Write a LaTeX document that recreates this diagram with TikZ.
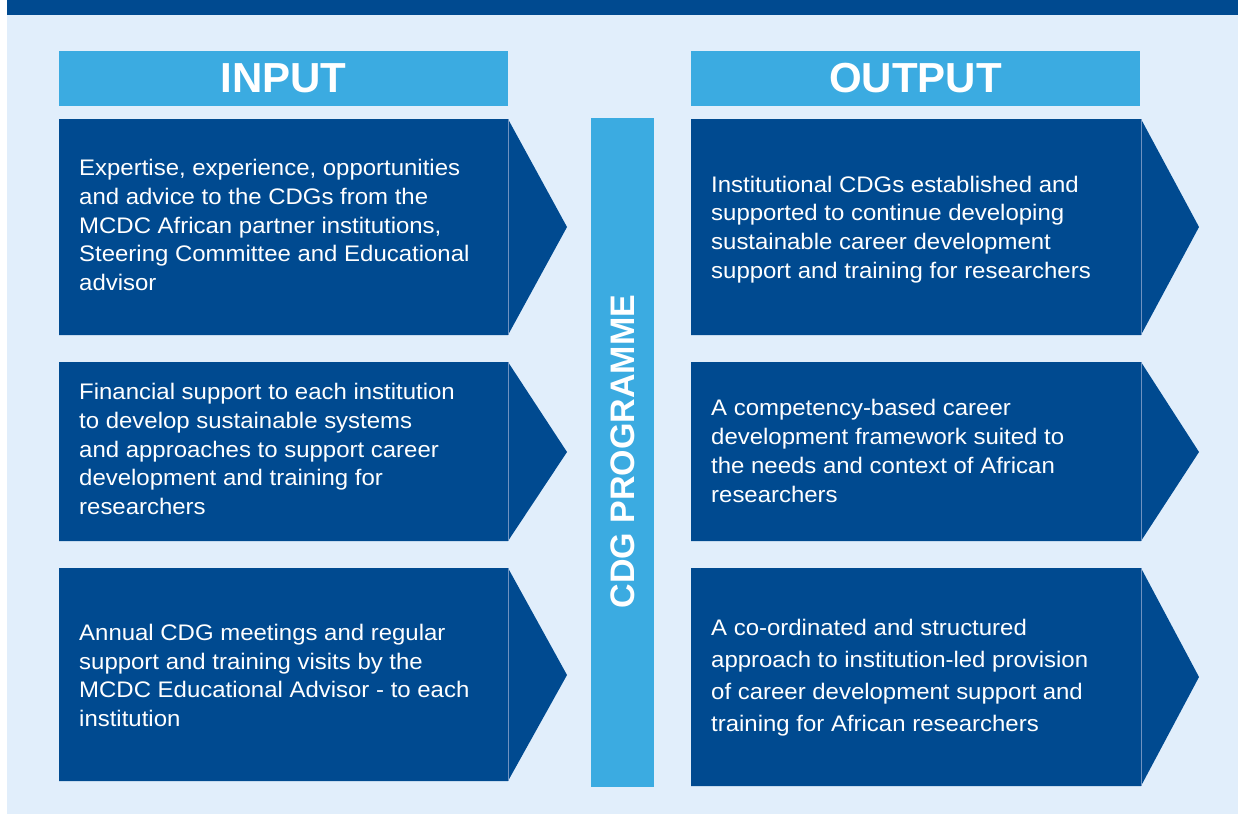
\documentclass[tikz,border=0pt]{standalone}
\usepackage{fontspec}
\setmainfont{Liberation Sans}
\newfontfamily\bodyfont[FakeStretch=1.065]{Liberation Sans}
\definecolor{MCDCNavy}{HTML}{004A90}
\definecolor{MCDCSky}{HTML}{3BABE1}
\definecolor{MCDCPale}{HTML}{E1EEFB}
\definecolor{MCDCSeam}{HTML}{6F92C0}

\begin{document}
\begin{tikzpicture}[x=1pt, y=-1pt,
    boxtext/.style={anchor=west, inner sep=0pt, align=left, text=white,
        font=\bodyfont\fontsize{22.5}{28.75}\selectfont},
    widetext/.style={boxtext, font=\bodyfont\fontsize{22.5}{32}\selectfont},
    headtext/.style={text=white, inner sep=0pt, font=\bfseries\fontsize{42}{42}\selectfont}]
    \useasboundingbox (0,0) rectangle (1238,814);

    % Page background and top band
    \fill[MCDCPale] (7,0) rectangle (1238,814);
    \fill[MCDCNavy] (7,0) rectangle (1238,15);

    % Column headers
    \fill[MCDCSky] (59,51) rectangle (508,106);
    \node[headtext] (inhead) at (283.5,78.5) {INPUT};
    \fill[MCDCSky] (691,51) rectangle (1140,106);
    \node[headtext] (outhead) at (915.5,78.5) {OUTPUT};

    % Input chevrons
    \fill[MCDCNavy] (59,119) -- (508,119) -- (567,227) -- (508,335) -- (59,335) -- cycle;
    \draw[MCDCSeam, line width=0.6pt] (508,119) -- (508,335);
    \fill[MCDCNavy] (59,362) -- (508,362) -- (567,452) -- (508,541) -- (59,541) -- cycle;
    \draw[MCDCSeam, line width=0.6pt] (508,362) -- (508,541);
    \fill[MCDCNavy] (59,568) -- (508,568) -- (567,675) -- (508,781) -- (59,781) -- cycle;
    \draw[MCDCSeam, line width=0.6pt] (508,568) -- (508,781);

    \node[boxtext] (inA) at (79,225) {Expertise, experience, opportunities\\
        and advice to the CDGs from the\\ MCDC African partner institutions,\\
        Steering Committee and Educational\\ advisor};
    \node[boxtext] (inB) at (79,449) {Financial support to each institution\\
        to develop sustainable systems\\ and approaches to support career\\
        development and training for\\ researchers};
    \node[boxtext] (inC) at (79,675.5) {Annual CDG meetings and regular\\
        support and training visits by the\\ MCDC Educational Advisor - to each\\
        institution};

    % Programme bar
    \fill[MCDCSky] (591,118) rectangle (654,787);
    \node[headtext, rotate=90, font=\bfseries\fontsize{34}{34}\selectfont]
        (prog) at (622.5,451.5) {CDG PROGRAMME};

    % Output chevrons
    \fill[MCDCNavy] (691,119) -- (1141,119) -- (1199,227) -- (1141,335) -- (691,335) -- cycle;
    \draw[MCDCSeam, line width=0.6pt] (1141,119) -- (1141,335);
    \fill[MCDCNavy] (691,362) -- (1141,362) -- (1199,452) -- (1141,541) -- (691,541) -- cycle;
    \draw[MCDCSeam, line width=0.6pt] (1141,362) -- (1141,541);
    \fill[MCDCNavy] (691,568) -- (1141,568) -- (1199,677) -- (1141,786) -- (691,786) -- cycle;
    \draw[MCDCSeam, line width=0.6pt] (1141,568) -- (1141,786);

    \node[boxtext] (outA) at (711,229.5) {Institutional CDGs established and\\
        supported to continue developing\\ sustainable career development\\
        support and training for researchers};
    \node[boxtext] (outB) at (711,451) {A competency-based career\\
        development framework suited to\\ the needs and context of African\\
        researchers};
    \node[widetext] (outC) at (711,677.5) {A co-ordinated and structured\\
        approach to institution-led provision\\ of career development support and\\
        training for African researchers};
\end{tikzpicture}
\end{document}
